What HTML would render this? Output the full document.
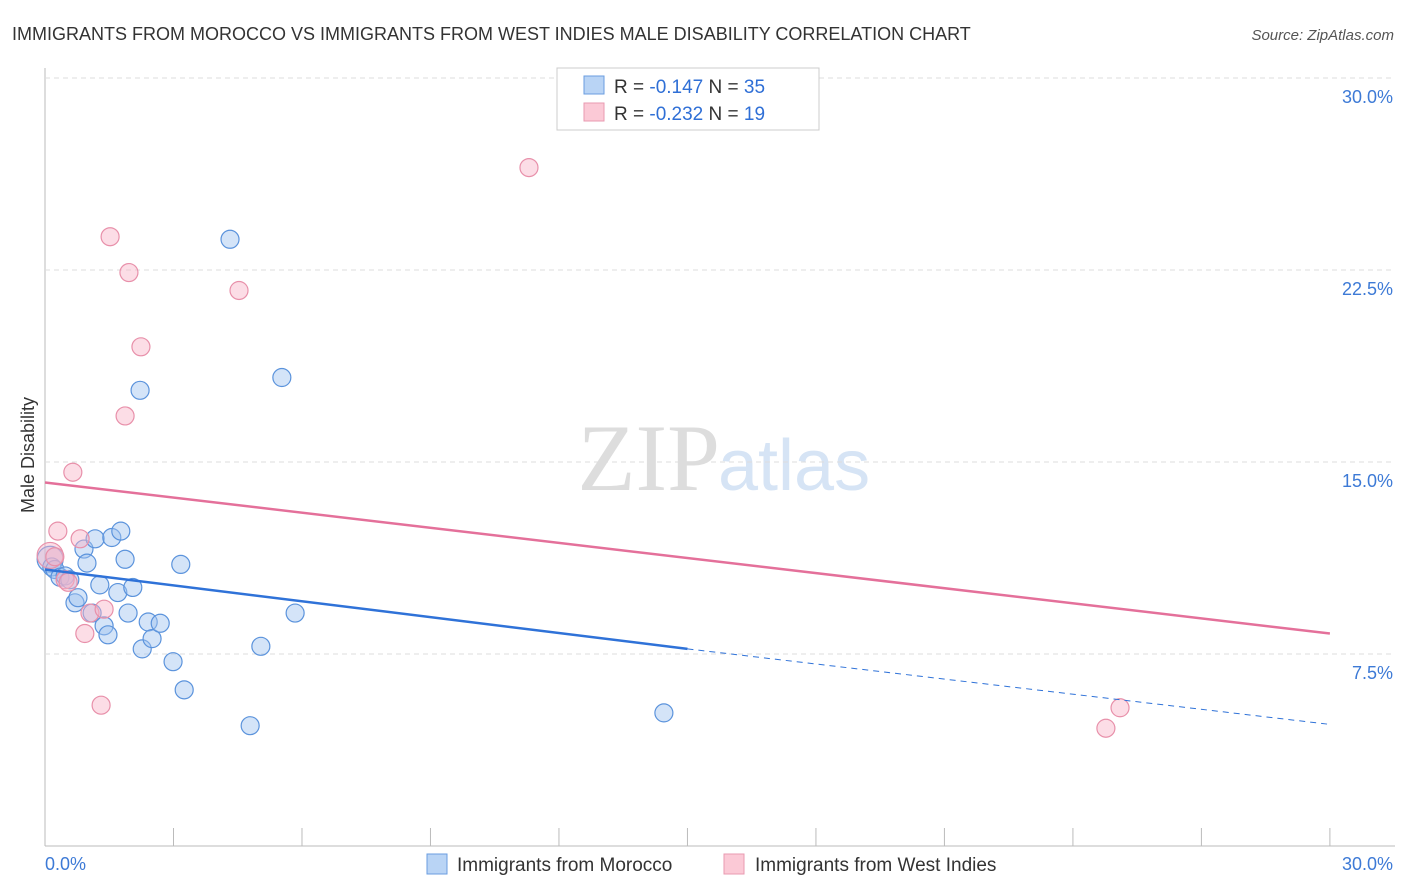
<!DOCTYPE html>
<html><head><meta charset="utf-8"><style>
body{margin:0;background:#fff;font-family:"Liberation Sans",sans-serif;}
svg{display:block}
</style></head><body>
<svg id="c" width="1406" height="892">
<text x="12" y="40" font-size="18" fill="#333">IMMIGRANTS FROM MOROCCO VS IMMIGRANTS FROM WEST INDIES MALE DISABILITY CORRELATION CHART</text>
<text x="1394" y="40" font-size="15" fill="#555" font-style="italic" text-anchor="end">Source: ZipAtlas.com</text>
<text x="720" y="490" font-size="95" fill="#ddd" text-anchor="end" font-family="Liberation Serif">ZIP</text>
<text x="718" y="490" font-size="72" fill="#d6e4f5">atlas</text>
<text x="34" y="455" font-size="18" fill="#333" transform="rotate(-90 34 455)" text-anchor="middle">Male Disability</text>
<g id="grid"></g><g id="pts"></g><g id="lines"></g>
<g>
<rect x="557" y="68" width="262" height="62" fill="#fff" stroke="#ccc"/>
<rect x="584" y="76" width="20" height="18" fill="#b9d4f5" stroke="#6a9de0"/>
<rect x="584" y="103" width="20" height="18" fill="#fbc9d6" stroke="#e89ab0"/>
<text x="614" y="93" font-size="19" fill="#333">R = <tspan fill="#2f6fd6">-0.147</tspan>   N = <tspan fill="#2f6fd6">35</tspan></text>
<text x="614" y="120" font-size="19" fill="#333">R = <tspan fill="#2f6fd6">-0.232</tspan>   N = <tspan fill="#2f6fd6"> 19</tspan></text>
</g>
<g>
<rect x="427" y="854" width="20" height="20" fill="#b9d4f5" stroke="#6a9de0"/>
<text x="457" y="871" font-size="19" fill="#333">Immigrants from Morocco</text>
<rect x="724" y="854" width="20" height="20" fill="#fbc9d6" stroke="#e89ab0"/>
<text x="755" y="871" font-size="19" fill="#333">Immigrants from West Indies</text>
</g>
</svg>
<script>
const yTicks=[7.5,15,22.5,30];
const yTickLabels=["7.5%","15.0%","22.5%","30.0%"];
const moroccoX=[0.12,0.16,0.23,0.35,0.47,0.58,0.7,0.77,0.91,0.98,1.1,1.17,1.28,1.38,1.47,1.56,1.7,1.77,1.87,1.94,2.05,2.22,2.27,2.41,2.5,2.69,2.99,3.17,3.25,4.32,4.79,5.04,5.53,5.84,14.45];
const moroccoY=[11.2,10.9,10.8,10.5,10.55,10.4,9.5,9.7,11.6,11.05,9.1,12.0,10.2,8.6,8.25,12.05,9.9,12.3,11.2,9.1,10.1,17.8,7.7,8.75,8.1,8.7,7.2,11.0,6.1,23.7,4.7,7.8,18.3,9.1,5.2];
const wiX=[0.12,0.23,0.3,0.47,0.54,0.65,0.82,0.93,1.05,1.31,1.38,1.52,1.87,1.96,2.24,4.53,11.3,24.77,25.1];
const wiY=[11.35,11.3,12.3,10.4,10.3,14.6,12.0,8.3,9.1,5.5,9.25,23.8,16.8,22.4,19.5,21.7,26.5,4.6,5.4];
const moroccoFit=[[0,10.8],[15,7.7],[30,4.75]];
const wiFit=[[0,14.2],[30,8.3]];
const X=v=>45+v*42.83, Y=v=>846-v*25.6;
const ns="http://www.w3.org/2000/svg";
function mk(t,a,p){const e=document.createElementNS(ns,t);for(const k in a)e.setAttribute(k,a[k]);p.appendChild(e);return e;}
const g=document.getElementById('grid');
mk('line',{x1:45,y1:68,x2:45,y2:846,stroke:'#bbb'},g);
mk('line',{x1:45,y1:846,x2:1395,y2:846,stroke:'#bbb'},g);
for(let i=0;i<=10;i++){const l=mk('line',{x1:X(i*3),x2:X(i*3),y1:828,y2:846,stroke:'#bbb'},g);}
yTicks.forEach((v,i)=>{
 const l=mk('line',{x1:45,x2:1395,y1:Y(v),y2:Y(v),stroke:'#ddd','stroke-dasharray':'5,4'},g);
 
 const t=mk('text',{x:1393,y:Y(v)+25,'text-anchor':'end','font-size':18,fill:'#3d7ad6'},g);t.textContent=yTickLabels[i];
 
});
let t=mk('text',{x:45,y:870,'font-size':18,fill:'#3d7ad6'},g);t.textContent="0.0%";

t=mk('text',{x:1393,y:870,'font-size':18,fill:'#3d7ad6','text-anchor':'end'},g);t.textContent="30.0%";

const p=document.getElementById('pts');
moroccoX.forEach((x,i)=>{const c=mk('circle',{cx:X(x),cy:Y(moroccoY[i]),r:i==0?13:9,fill:'rgba(160,196,240,0.45)',stroke:'#5b93dc','stroke-width':1.2},p);
 });
wiX.forEach((x,i)=>{const c=mk('circle',{cx:X(x),cy:Y(wiY[i]),r:i==0?13:9,fill:'rgba(248,180,200,0.45)',stroke:'#e890aa','stroke-width':1.2},p);
 });
const L=document.getElementById('lines');
let e=mk('line',{x1:X(moroccoFit[0][0]),y1:Y(moroccoFit[0][1]),x2:X(moroccoFit[1][0]),y2:Y(moroccoFit[1][1]),stroke:'#2f72d8','stroke-width':2.5},L);

e=mk('line',{x1:X(moroccoFit[1][0]),y1:Y(moroccoFit[1][1]),x2:X(moroccoFit[2][0]),y2:Y(moroccoFit[2][1]),stroke:'#2f72d8','stroke-width':1,'stroke-dasharray':'6,5'},L);

e=mk('line',{x1:X(wiFit[0][0]),y1:Y(wiFit[0][1]),x2:X(wiFit[1][0]),y2:Y(wiFit[1][1]),stroke:'#e4709a','stroke-width':2.5},L);

</script>
</body></html>
